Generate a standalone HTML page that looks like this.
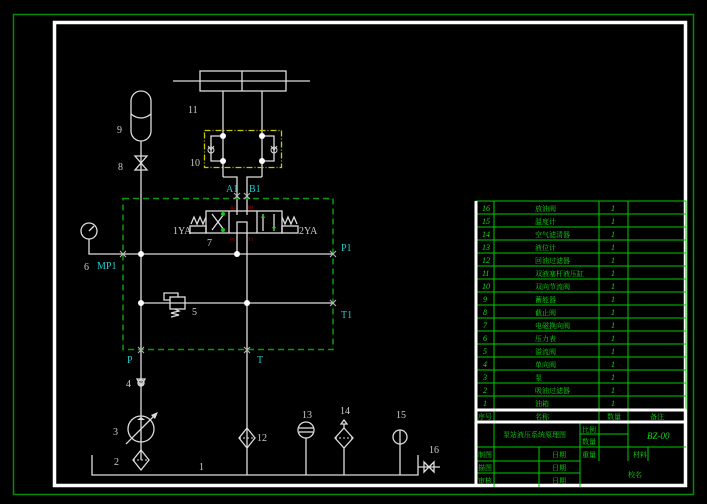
<!DOCTYPE html>
<html><head><meta charset="utf-8"><style>
html,body{margin:0;padding:0;background:#000;}
svg{display:block;}
text{font-family:"Liberation Serif","Noto Serif CJK SC",serif;}
.cn{font-family:"Liberation Sans","Noto Sans CJK SC",sans-serif;}
</style></head><body>
<svg width="707" height="504" viewBox="0 0 707 504" xmlns="http://www.w3.org/2000/svg">
<rect width="707" height="504" fill="#000"/>
<rect x="13.5" y="14.5" width="680" height="480" fill="none" stroke="#0a8a0a" stroke-width="1.5"/>
<rect x="54.5" y="22.5" width="631" height="463" fill="none" stroke="#fff" stroke-width="3.5"/>

<g stroke="#ddd" stroke-width="1.3" fill="none">
<!-- cylinder -->
<rect x="200" y="71" width="86" height="20"/>
<line x1="242" y1="71" x2="242" y2="91"/>
<line x1="173" y1="81" x2="310" y2="81"/>
<line x1="223" y1="91" x2="223" y2="177"/>
<line x1="262" y1="91" x2="262" y2="177"/>
<polyline points="223,177 237,177 237,211"/>
<polyline points="262,177 247,177 247,211"/>
<!-- lock loops -->
<polyline points="223,136 211,136 211,161 223,161"/>
<polyline points="262,136 274,136 274,161 262,161"/>
<!-- accumulator -->
<path d="M131,101 A10,10 0 0 1 151,101 L151,131 A10,10 0 0 1 131,131 Z"/>
<path d="M131,114 Q141,122 151,114"/>
<line x1="141" y1="141" x2="141" y2="460"/>
<path d="M135,156 L147,156 L135,170 L147,170 Z"/>
<!-- gauge -->
<circle cx="89" cy="231" r="8"/>
<line x1="89" y1="231" x2="94" y2="226"/>
<polyline points="89,239 89,254 333,254"/>
<line x1="141" y1="303" x2="333" y2="303"/>
<line x1="247" y1="233" x2="247" y2="475"/>
<line x1="237" y1="233" x2="237" y2="254"/>
<!-- valve 7 -->
<rect x="206" y="211" width="76" height="22"/>
<line x1="229" y1="211" x2="229" y2="233"/>
<line x1="257" y1="211" x2="257" y2="233"/>
<line x1="212" y1="214" x2="224" y2="230"/><line x1="224" y1="214" x2="212" y2="230"/>
<polyline points="237,233 237,222 247,222 247,233"/>
<line x1="237" y1="211" x2="237" y2="215"/><line x1="247" y1="211" x2="247" y2="215"/>
<line x1="263" y1="214" x2="263" y2="231"/><line x1="274" y1="214" x2="274" y2="231"/>
<rect x="190" y="226" width="16" height="7"/><rect x="282" y="226" width="16" height="7"/>
<polyline points="191,224 194,217 197,224 200,217 203,224 206,217"/>
<polyline points="282,217 285,224 288,217 291,224 294,217 297,224"/>
<!-- relief 5 -->
<rect x="170" y="297" width="15" height="12"/>
<polyline points="170,300 164,300 164,293 178,293 178,297"/>
<polyline points="175,309 179,311 171,313 179,315 171,317"/>
<!-- check 4 -->
<path d="M137,379 L145,379 L141,386 Z"/><circle cx="141" cy="383" r="3"/>
<!-- pump -->
<circle cx="141" cy="429" r="13"/>
<line x1="126" y1="444" x2="155" y2="415"/>
<!-- filters -->
<path d="M141,450 L149,460 L141,470 L133,460 Z"/>
<path d="M247,428 L255,438 L247,448 L239,438 Z"/>
<path d="M344,428 L353,438 L344,448 L335,438 Z"/>
<line x1="344" y1="448" x2="344" y2="475"/>
<path d="M341,424 L344,420 L347,424 Z"/><line x1="344" y1="424" x2="344" y2="428"/>
<circle cx="306" cy="430" r="8"/>
<line x1="299" y1="428" x2="313" y2="428"/><line x1="299" y1="432" x2="313" y2="432"/>
<line x1="306" y1="438" x2="306" y2="475"/>
<circle cx="400" cy="437" r="7"/><line x1="400" y1="430" x2="400" y2="475"/>
<!-- tank -->
<polyline points="92,455 92,475 418,475 418,455"/>
<line x1="418" y1="467" x2="440" y2="467"/>
<path d="M424,462 L424,472 L434,462 L434,472 Z"/>
</g>
<g stroke="#ddd" stroke-width="1" stroke-dasharray="2,2">
<line x1="133" y1="460" x2="149" y2="460"/><line x1="239" y1="438" x2="255" y2="438"/><line x1="335" y1="438" x2="353" y2="438"/>
</g>
<path d="M151,415 L158,412 L155,419 Z" fill="#ddd"/>
<path d="M137,420 L145,420 L141,417 Z" fill="#ddd"/>
<!-- yellow dashed -->
<rect x="204.5" y="130.5" width="77" height="37" fill="none" stroke="#c8c800" stroke-width="1.3" stroke-dasharray="6,2,1,2"/>
<g fill="none" stroke="#ddd" stroke-width="1">
<circle cx="211" cy="150" r="3"/><circle cx="274" cy="150" r="3"/>
<path d="M208,146 L211,150 L214,146"/><path d="M271,146 L274,150 L277,146"/>
</g>
<!-- green dashed -->
<rect x="123" y="198.5" width="210" height="151" fill="none" stroke="#0a9a0a" stroke-width="1.5" stroke-dasharray="6,4"/>
<!-- dots -->
<g fill="#fff">
<circle cx="223" cy="136" r="3"/><circle cx="223" cy="161" r="3"/><circle cx="262" cy="136" r="3"/><circle cx="262" cy="161" r="3"/>
<circle cx="141" cy="254" r="3"/><circle cx="237" cy="254" r="3"/><circle cx="141" cy="303" r="3"/><circle cx="247" cy="303" r="3"/>
</g>
<g fill="#1c1">
<circle cx="223" cy="214" r="2"/><circle cx="223" cy="230" r="2"/><path d="M261,218 L265,218 L263,214 Z"/><path d="M272,227 L276,227 L274,231 Z"/>
</g>
<!-- X marks -->
<g stroke="#bbb" stroke-width="1">
<path d="M234,193 l6,6 m0,-6 l-6,6 M244,193 l6,6 m0,-6 l-6,6 M120,251 l6,6 m0,-6 l-6,6 M330,251 l6,6 m0,-6 l-6,6 M330,300 l6,6 m0,-6 l-6,6 M138,347 l6,6 m0,-6 l-6,6 M244,347 l6,6 m0,-6 l-6,6"/>
</g>
<!-- labels -->
<g fill="#ccc" font-size="10">
<text x="188" y="113">11</text><text x="190" y="166">10</text><text x="117" y="133">9</text><text x="118" y="170">8</text>
<text x="207" y="246">7</text><text x="84" y="270">6</text><text x="192" y="315">5</text><text x="126" y="387">4</text>
<text x="113" y="435">3</text><text x="114" y="465">2</text><text x="199" y="470">1</text><text x="257" y="441">12</text>
<text x="302" y="418">13</text><text x="340" y="414">14</text><text x="396" y="418">15</text><text x="429" y="453">16</text>
<text x="173" y="234">1YA</text><text x="299" y="234">2YA</text>
</g>
<g fill="#2cc" font-size="10">
<text x="226" y="192">A1</text><text x="249" y="192">B1</text><text x="97" y="269">MP1</text><text x="341" y="251">P1</text>
<text x="341" y="318">T1</text><text x="127" y="363">P</text><text x="257" y="363">T</text>
</g>
<g fill="#a00" font-size="5"><text x="230" y="209">A1</text><text x="248" y="209">B1</text><text x="230" y="241">P1</text><text x="248" y="241">T1</text></g>

<!-- table -->
<g stroke="#0c0" stroke-width="1" fill="none">
<rect x="476" y="201" width="210" height="208"/>
<line x1="494" y1="201" x2="494" y2="487"/><line x1="599" y1="201" x2="599" y2="422"/><line x1="628" y1="201" x2="628" y2="422"/>
<path d="M476,214H686M476,227H686M476,240H686M476,253H686M476,266H686M476,279H686M476,292H686M476,305H686M476,318H686M476,331H686M476,344H686M476,357H686M476,370H686M476,383H686M476,396H686"/>
<path d="M476,447H686M476,461H580M476,473H580M580,434H628M580,423V487M599,423V461M628,423V461M539,447V487M648,447V461"/>
</g>
<g stroke="#fff" stroke-width="3"><line x1="476" y1="410" x2="686" y2="410"/><line x1="476" y1="422" x2="686" y2="422"/><line x1="476" y1="201" x2="476" y2="487"/></g>
<g fill="#1d1" font-size="8" font-style="italic">
<text x="482" y="211">16</text><text x="482" y="224">15</text><text x="482" y="237">14</text><text x="482" y="250">13</text><text x="482" y="263">12</text><text x="482" y="276">11</text><text x="482" y="289">10</text>
<text x="483" y="302">9</text><text x="483" y="315">8</text><text x="483" y="328">7</text><text x="483" y="341">6</text><text x="483" y="354">5</text><text x="483" y="367">4</text><text x="483" y="380">3</text><text x="483" y="393">2</text><text x="483" y="406">1</text>
<g><text x="611" y="211">1</text><text x="611" y="224">1</text><text x="611" y="237">1</text><text x="611" y="250">1</text><text x="611" y="263">1</text><text x="611" y="276">1</text><text x="611" y="289">1</text><text x="611" y="302">1</text><text x="611" y="315">1</text><text x="611" y="328">1</text><text x="611" y="341">1</text><text x="611" y="354">1</text><text x="611" y="367">1</text><text x="611" y="380">1</text><text x="611" y="393">1</text><text x="611" y="406">1</text></g>
<text x="647" y="439" font-size="9">BZ-00</text>
</g>
<g fill="#1d1" font-size="7" class="cn">
<text x="535" y="211">放油阀</text><text x="535" y="224">温度计</text><text x="535" y="237">空气滤清器</text><text x="535" y="250">液位计</text><text x="535" y="263">回油过滤器</text><text x="535" y="276">双液塞杆液压缸</text><text x="535" y="289">双向节流阀</text><text x="535" y="302">蓄能器</text><text x="535" y="315">截止阀</text><text x="535" y="328">电磁换向阀</text><text x="535" y="341">压力表</text><text x="535" y="354">溢流阀</text><text x="535" y="367">单向阀</text><text x="535" y="380">泵</text><text x="535" y="393">吸油过滤器</text><text x="535" y="406">油箱</text>
<text x="478" y="419">序号</text><text x="535" y="419">名称</text><text x="607" y="419">数量</text><text x="650" y="419">备注</text>
<text x="503" y="437">泵站液压系统原理图</text><text x="582" y="432">比例</text><text x="582" y="444">数量</text>
<text x="478" y="457">制图</text><text x="552" y="457">日期</text><text x="582" y="457">重量</text><text x="633" y="457">材料</text>
<text x="478" y="470">描图</text><text x="552" y="470">日期</text><text x="478" y="483">审核</text><text x="552" y="483">日期</text><text x="628" y="477">校名</text>
</g>
</svg>
</body></html>
